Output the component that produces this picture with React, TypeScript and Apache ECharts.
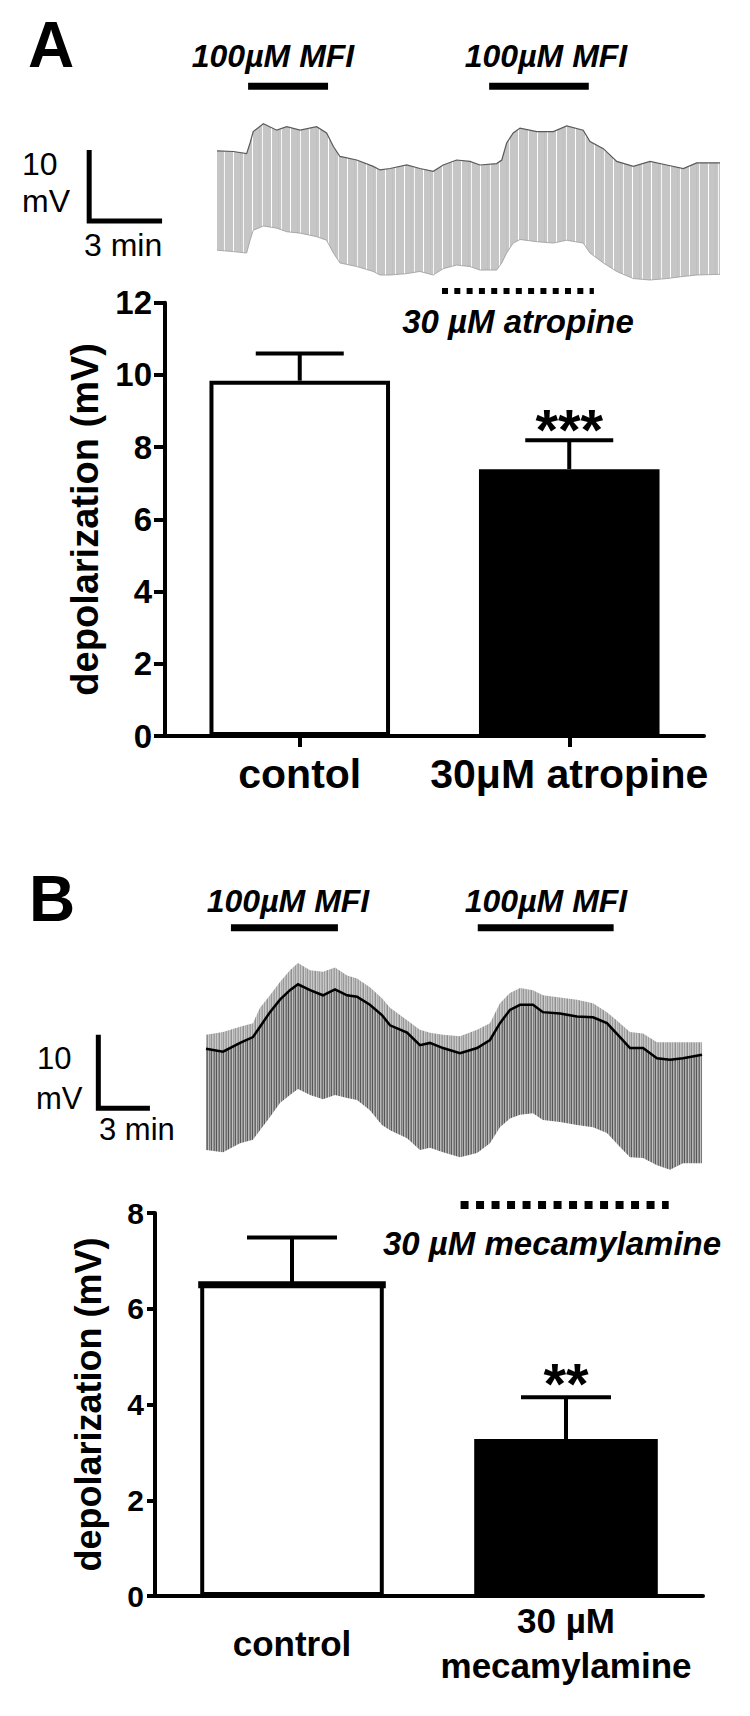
import React, { useEffect, useRef } from "react";
import * as echarts from "echarts";

const FONT = '"Liberation Sans", Arial, Helvetica, sans-serif';

// ---------- Panel A : membrane-potential trace (time in min, potential in mV, relative) ----------
const traceATime = [0.00, 0.67, 1.22, 1.36, 1.49, 1.91, 2.46, 2.87, 3.42, 4.10, 4.51, 4.79, 5.06, 5.75, 6.43, 6.71, 7.12, 7.81, 8.35, 8.90, 9.31, 9.86, 10.41, 10.82, 11.51, 11.72, 11.92, 12.19, 12.47, 13.16, 13.84, 14.39, 15.07, 15.35, 15.90, 16.45, 17.13, 17.82, 18.51, 19.19, 19.74, 20.70];
const traceATop = [18.2, 18.1, 17.8, 19.3, 20.9, 22.0, 21.1, 21.6, 21.1, 21.6, 20.7, 18.8, 17.4, 16.9, 16.0, 15.5, 15.7, 16.2, 15.7, 15.3, 16.2, 16.9, 16.7, 16.2, 16.4, 16.9, 19.3, 20.7, 21.4, 20.9, 20.9, 21.7, 21.1, 19.5, 18.5, 16.7, 16.0, 16.7, 16.2, 15.7, 16.5, 16.5];
const traceABottom = [4.2, 4.0, 3.8, 5.6, 7.0, 7.6, 7.3, 6.8, 6.6, 6.1, 5.6, 3.8, 2.4, 1.9, 1.2, 0.7, 0.7, 0.9, 1.2, 0.7, 1.6, 2.1, 1.9, 1.4, 1.4, 2.4, 3.8, 5.2, 5.7, 5.4, 5.2, 5.6, 5.2, 3.8, 2.4, 1.2, 0.2, 0.0, 0.2, 0.5, 0.7, 0.8];
const scaleBarA = [[-5.26, 18.3], [-5.26, 8.3], [-2.26, 8.3]]; // 10 mV / 3 min
const mfiA = [[1.28, 4.57], [11.2, 15.3]]; // 100µM MFI application (min)
const atropineA = [9.26, 15.51]; // 30 µM atropine (min)

// ---------- Panel A : bar chart ----------
const catsA = ["contol", "30μM atropine"];
const meanA = [9.84, 7.39];
const semA = [0.75, 0.8];
const sigA = ["", "***"];
const yMaxA = 12;
const yStepA = 2;

// ---------- Panel B : membrane-potential trace ----------
const traceBTime = [0.00, 0.99, 1.98, 2.73, 3.14, 3.72, 4.30, 4.88, 5.35, 6.05, 6.80, 7.50, 8.20, 8.78, 9.53, 10.23, 10.70, 11.69, 12.44, 13.02, 13.78, 14.77, 15.76, 16.51, 17.09, 17.67, 18.26, 19.01, 19.59, 20.58, 21.57, 22.50, 23.31, 24.07, 24.65, 25.41, 26.22, 26.98, 27.73, 28.84];
const traceBTop = [19.8, 20.2, 20.9, 21.4, 23.5, 25.2, 27.0, 28.6, 29.6, 28.6, 28.4, 29.0, 27.9, 27.5, 26.3, 24.8, 23.5, 21.8, 20.5, 20.1, 19.8, 19.6, 20.5, 21.4, 24.1, 25.5, 26.2, 25.9, 25.2, 24.9, 24.6, 24.1, 22.9, 21.4, 20.2, 20.0, 18.8, 18.8, 18.8, 18.8];
const traceBMean = [17.9, 17.5, 18.7, 19.5, 20.9, 22.9, 24.6, 25.9, 26.7, 25.9, 25.2, 26.0, 25.2, 25.0, 23.9, 22.5, 21.1, 20.1, 18.4, 18.7, 18.0, 17.3, 18.0, 19.1, 21.4, 23.2, 23.9, 23.9, 22.9, 22.7, 22.3, 22.2, 21.4, 19.5, 18.0, 18.0, 16.6, 16.4, 16.6, 17.1];
const traceBBottom = [4.1, 3.8, 5.0, 5.5, 6.8, 8.6, 10.5, 11.6, 12.4, 11.6, 11.0, 11.6, 11.2, 10.9, 9.5, 7.5, 6.8, 5.7, 4.1, 4.4, 3.8, 3.1, 3.7, 5.0, 7.2, 8.4, 8.9, 9.1, 8.2, 7.9, 7.5, 7.2, 6.4, 4.5, 3.1, 3.0, 2.0, 1.4, 2.3, 2.3];
const scaleBarB = [[-6.26, 19.8], [-6.26, 9.8], [-3.26, 9.8]];
const mfiB = [[1.45, 7.67], [15.8, 23.7]];
const mecamylamineB = [14.8, 26.9];

// ---------- Panel B : bar chart ----------
const catsB = ["control", "30 µM\nmecamylamine"];
const meanB = [6.52, 3.28];
const semB = [0.97, 0.87];
const sigB = ["", "**"];
const yMaxB = 8;
const yStepB = 2;

function makePattern(cols: string[]) {
  const c = document.createElement("canvas");
  c.width = cols.length;
  c.height = 4;
  const ctx = c.getContext("2d")!;
  cols.forEach((col, i) => {
    ctx.fillStyle = col;
    ctx.fillRect(i, 0, 1, 4);
  });
  return { image: c.toDataURL(), repeat: "repeat", imageWidth: cols.length, imageHeight: 4 };
}

function bandSeries(xi: number, times: number[], upper: number[], lower: number[], fill: any, z: number) {
  return {
    type: "custom",
    xAxisIndex: xi,
    yAxisIndex: xi,
    silent: true,
    clip: false,
    z,
    data: times.map((t, i) => [t, lower[i], upper[i]]),
    encode: { x: 0, y: [1, 2] },
    renderItem: (params: any, api: any) => {
      if (params.dataIndex !== 0) return null;
      const pts: number[][] = [];
      for (let i = 0; i < times.length; i++) pts.push(api.coord([times[i], upper[i]]));
      for (let i = times.length - 1; i >= 0; i--) pts.push(api.coord([times[i], lower[i]]));
      return { type: "polygon", shape: { points: pts }, style: { fill, stroke: "none" } };
    },
  };
}

function lineSeries(xi: number, data: number[][], color: string, width: number, z: number, type: any = "solid") {
  return {
    type: "line",
    xAxisIndex: xi,
    yAxisIndex: xi,
    data,
    symbol: "none",
    silent: true,
    z,
    lineStyle: { color, width, type, cap: "butt", join: "miter" },
  };
}

function errorSeries(xi: number, means: number[], sems: number[], sigs: string[], capW: number, sigSize: number, sigLift: number, thickTop: boolean[]) {
  return {
    type: "custom",
    xAxisIndex: xi,
    yAxisIndex: xi,
    z: 5,
    silent: true,
    clip: false,
    data: means.map((m, i) => [i, m, sems[i]]),
    renderItem: (params: any, api: any) => {
      const i = params.dataIndex;
      const base = api.coord([api.value(0), api.value(1)]);
      const top = api.coord([api.value(0), api.value(1) + api.value(2)]);
      const children: any[] = [
        { type: "line", shape: { x1: base[0], y1: base[1], x2: top[0], y2: top[1] }, style: { stroke: "#000", lineWidth: 4 } },
        { type: "line", shape: { x1: top[0] - capW / 2, y1: top[1], x2: top[0] + capW / 2, y2: top[1] }, style: { stroke: "#000", lineWidth: 4 } },
      ];
      if (thickTop[i]) {
        const half = (api.size([1, 0])[0] * 0.67) / 2 + 2;
        children.push({ type: "line", shape: { x1: base[0] - half, y1: base[1] + 1, x2: base[0] + half, y2: base[1] + 1 }, style: { stroke: "#000", lineWidth: 7 } });
      }
      if (sigs[i]) {
        children.push({
          type: "text",
          x: top[0],
          y: top[1] - sigLift,
          style: {
            text: sigs[i],
            fill: "#000",
            fontSize: sigSize,
            fontWeight: "bold",
            fontFamily: FONT,
            align: "center",
            verticalAlign: "middle",
            textAlign: "center",
            textVerticalAlign: "middle",
          },
        });
      }
      return { type: "group", children };
    },
  };
}

function txt(text: string, x: number, y: number, size: number, opts: any = {}) {
  return {
    type: "text",
    x,
    y,
    silent: true,
    style: {
      text,
      fill: "#000",
      fontSize: size,
      fontFamily: FONT,
      fontWeight: opts.weight || "normal",
      fontStyle: opts.style || "normal",
      align: opts.align || "left",
      textAlign: opts.align || "left",
      verticalAlign: "middle",
      textVerticalAlign: "middle",
    },
  };
}

export default function App() {
  const ref = useRef<HTMLDivElement>(null);

  useEffect(() => {
    if (!ref.current) return;
    const chart = echarts.init(ref.current, undefined, { renderer: "svg" });

    const patA = makePattern(["#c6c6c6", "#c6c6c6", "#c6c6c6", "#c6c6c6", "#c6c6c6", "#ffffff", "#c6c6c6", "#c6c6c6", "#c6c6c6", "#c6c6c6", "#c6c6c6", "#c6c6c6", "#c0c0c0", "#c6c6c6", "#c6c6c6", "#f4f4f4", "#c6c6c6", "#c6c6c6", "#c6c6c6"]);
    const patBLow = makePattern(["#555555", "#b0b0b0", "#8c8c8c", "#6a6a6a", "#c2c2c2", "#7a7a7a", "#a0a0a0", "#5a5a5a", "#b8b8b8", "#909090", "#707070", "#a8a8a8"]);
    const patBHigh = makePattern(["#9c9c9c", "#c6c6c6", "#b2b2b2", "#8e8e8e", "#cfcfcf", "#a8a8a8", "#bcbcbc", "#989898", "#c4c4c4", "#b0b0b0", "#a0a0a0", "#c9c9c9"]);

    const zip = (t: number[], v: number[]) => t.map((x, i) => [x, v[i]]);
    const seg = (iv: number[], level: number) => [[iv[0], level], [iv[1], level]];

    const barAxisY = (gi: number, max: number, step: number, labelSize: number, tickLen: number, margin: number, nameSize: number, nameGap: number) => ({
      gridIndex: gi,
      type: "value",
      min: 0,
      max,
      interval: step,
      axisLine: { show: true, lineStyle: { color: "#000", width: 4 } },
      axisTick: { show: true, length: tickLen, lineStyle: { color: "#000", width: 4 } },
      axisLabel: { color: "#000", fontSize: labelSize, fontWeight: "bold", fontFamily: FONT, margin },
      splitLine: { show: false },
      name: "depolarization (mV)",
      nameLocation: "middle",
      nameGap,
      nameTextStyle: { color: "#000", fontSize: nameSize, fontWeight: "bold", fontFamily: FONT },
    });

    const option: any = {
      animation: false,
      backgroundColor: "#ffffff",
      textStyle: { fontFamily: FONT },
      grid: [
        { left: 71.2, top: 67, width: 656.1, height: 234.3 },
        { left: 165, top: 302.7, width: 539, height: 433.3 },
        { left: 85.6, top: 916.1, width: 636.4, height: 307.9 },
        { left: 155, top: 1213, width: 548, height: 383 },
      ],
      xAxis: [
        { gridIndex: 0, type: "value", min: -6, max: 21, show: false },
        {
          gridIndex: 1,
          type: "category",
          data: catsA,
          axisLine: { lineStyle: { color: "#000", width: 4 } },
          axisTick: { show: true, alignWithLabel: true, length: 11, lineStyle: { color: "#000", width: 4 } },
          axisLabel: { interval: 0, color: "#000", fontSize: 41, fontWeight: "bold", fontFamily: FONT, margin: 38, verticalAlign: "middle" },
        },
        { gridIndex: 2, type: "value", min: -7, max: 30, show: false },
        {
          gridIndex: 3,
          type: "category",
          data: catsB,
          axisLine: { lineStyle: { color: "#000", width: 4 } },
          axisTick: { show: false },
          axisLabel: { interval: 0, color: "#000", fontSize: 35, fontWeight: "bold", fontFamily: FONT, margin: 47, verticalAlign: "middle", lineHeight: 45 },
        },
      ],
      yAxis: [
        { gridIndex: 0, type: "value", min: -3, max: 30, show: false },
        barAxisY(1, yMaxA, yStepA, 33, 11, 13, 38, 52),
        { gridIndex: 2, type: "value", min: -6, max: 36, show: false },
        barAxisY(3, yMaxB, yStepB, 30, 8, 11, 36, 49),
      ],
      series: [
        // Panel A trace
        bandSeries(0, traceATime, traceATop, traceABottom, patA, 1),
        lineSeries(0, zip(traceATime, traceATop), "#5a5a5a", 1.2, 2),
        lineSeries(0, zip(traceATime, traceABottom), "#9a9a9a", 0.8, 2),
        lineSeries(0, scaleBarA, "#000", 5, 3),
        ...mfiA.map((iv) => lineSeries(0, seg(iv, 27.3), "#000", 7, 3)),
        lineSeries(0, seg(atropineA, -1.55), "#000", 6, 3, [6, 6.3]),
        // Panel A bars
        {
          type: "bar",
          xAxisIndex: 1,
          yAxisIndex: 1,
          barWidth: "67%",
          silent: true,
          z: 2,
          data: meanA.map((v, i) => ({ value: v, itemStyle: { color: i === 0 ? "#ffffff" : "#000000" } })),
          itemStyle: { borderColor: "#000", borderWidth: 4 },
        },
        errorSeries(1, meanA, semA, sigA, 88, 58, 11, [false, false]),
        // Panel B trace
        bandSeries(2, traceBTime, traceBMean, traceBBottom, patBLow, 1),
        bandSeries(2, traceBTime, traceBTop, traceBMean, patBHigh, 1),
        lineSeries(2, zip(traceBTime, traceBMean), "#000", 2.5, 3),
        lineSeries(2, scaleBarB, "#000", 5, 3),
        ...mfiB.map((iv) => lineSeries(2, seg(iv, 34.4), "#000", 7, 3)),
        lineSeries(2, seg(mecamylamineB, -3.4), "#000", 8, 3, [8, 7.5]),
        // Panel B bars
        {
          type: "bar",
          xAxisIndex: 3,
          yAxisIndex: 3,
          barWidth: "67%",
          silent: true,
          z: 2,
          data: meanB.map((v, i) => ({ value: v, itemStyle: { color: i === 0 ? "#ffffff" : "#000000" } })),
          itemStyle: { borderColor: "#000", borderWidth: 4 },
        },
        errorSeries(3, meanB, semB, sigB, 90, 58, 14, [true, false]),
      ],
      graphic: [
        txt("A", 28, 45, 64, { weight: "bold" }),
        txt("100µM MFI", 273, 56, 32, { weight: "bold", style: "italic", align: "center" }),
        txt("100µM MFI", 546, 56, 32, { weight: "bold", style: "italic", align: "center" }),
        txt("10", 22, 164, 32),
        txt("mV", 22, 201, 32),
        txt("3 min", 84, 245, 32),
        txt("30 µM atropine", 518, 321, 33, { weight: "bold", style: "italic", align: "center" }),
        txt("B", 29, 899, 64, { weight: "bold" }),
        txt("100µM MFI", 288, 901, 32, { weight: "bold", style: "italic", align: "center" }),
        txt("100µM MFI", 546, 901, 32, { weight: "bold", style: "italic", align: "center" }),
        txt("10", 37, 1058, 31),
        txt("mV", 36, 1098, 31),
        txt("3 min", 99, 1129, 31),
        txt("30 µM mecamylamine", 552, 1243, 33, { weight: "bold", style: "italic", align: "center" }),
      ],
    };

    chart.setOption(option);
    return () => chart.dispose();
  }, []);

  return <div ref={ref} style={{ position: "absolute", left: 0, top: 0, width: 750, height: 1716, background: "#fff" }} />;
}
